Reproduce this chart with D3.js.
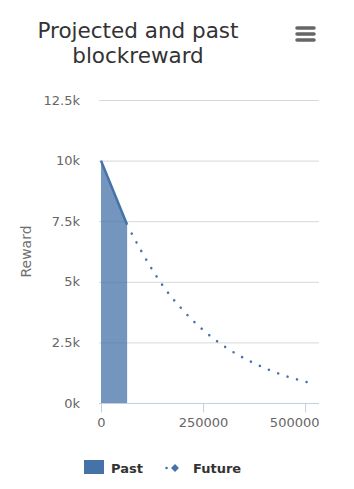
<!DOCTYPE html>
<html>
<head>
<meta charset="utf-8">
<script src="https://cdn.jsdelivr.net/npm/d3@7"></script>
<style>
  body { margin: 0; background: #fff; }
  text { font-family: "DejaVu Sans", sans-serif; }
</style>
</head>
<body>
<div id="main"></div>
<script>
// values
var titleLines = ["Projected and past", "blockreward"];
var yTicks = [0, 2500, 5000, 7500, 10000, 12500];
var xTicks = [0, 250000, 500000];
var pastBlocks = [0, 64000];
var pastReward = [10000, 7350];
var futureBlocks = [64000, 76900, 112400, 152200, 198300, 250700, 309000, 372100, 440000, 509700];
var futureReward = [7350, 6942, 5868, 4822, 3872, 3004, 2260, 1665, 1186, 839];
var seriesNames = ["Past", "Future"];

var ctx = {
    w: 354,
    h: 489,
    BLUE: "#4572A7",
    GRID: "#D8D8D8",
    AXIS: "#C0D0E0",
    LABEL: "#666666",
    left: 99,
    right: 319,
    top: 100,
    bottom: 403,
};

var createViz = function(){
    var svgEl = d3.select("#main").append("svg")
        .attr("width", ctx.w)
        .attr("height", ctx.h);

    ctx.xScale = d3.scaleLinear().domain([-4900, 534000]).range([ctx.left, ctx.right]);
    ctx.yScale = d3.scaleLinear().domain([0, 12500]).range([ctx.bottom, ctx.top]);

    // title
    svgEl.append("text")
        .attr("text-anchor", "middle")
        .attr("font-size", 21.5)
        .attr("fill", "#333")
        .selectAll("tspan").data(titleLines).enter().append("tspan")
        .attr("x", 138)
        .attr("y", (d, i) => 38 + i * 25)
        .text(d => d);

    // menu button
    svgEl.append("g").selectAll("line").data([28, 34, 40]).enter().append("line")
        .attr("x1", 297).attr("x2", 314)
        .attr("y1", d => d).attr("y2", d => d)
        .attr("stroke", "#666").attr("stroke-width", 3.5)
        .attr("stroke-linecap", "round");

    // grid + y labels
    var yAxis = d3.axisLeft(ctx.yScale)
        .tickValues(yTicks)
        .tickSize(-(ctx.right - ctx.left))
        .tickPadding(19)
        .tickFormat(d => (d / 1000) + "k");
    var gy = svgEl.append("g")
        .attr("transform", "translate(" + ctx.left + ",0)")
        .call(yAxis);
    gy.select(".domain").remove();
    gy.selectAll(".tick line").attr("stroke", ctx.GRID);
    gy.selectAll(".tick text")
        .attr("fill", ctx.LABEL)
        .attr("font-size", 13)
        .attr("font-family", "DejaVu Sans, sans-serif");

    svgEl.append("text")
        .attr("transform", "translate(31," + ((ctx.top + ctx.bottom) / 2) + ") rotate(-90)")
        .attr("text-anchor", "middle")
        .attr("font-size", 14)
        .attr("fill", "#707070")
        .text("Reward");

    // past area
    var past = pastBlocks.map((b, i) => ({x: b, y: pastReward[i]}));
    var area = d3.area()
        .x(d => ctx.xScale(d.x))
        .y0(ctx.yScale(0))
        .y1(d => ctx.yScale(d.y));
    svgEl.append("path").datum(past)
        .attr("d", area)
        .attr("fill", ctx.BLUE)
        .attr("fill-opacity", 0.75);
    var line = d3.line()
        .x(d => ctx.xScale(d.x))
        .y(d => ctx.yScale(d.y));
    svgEl.append("path").datum(past)
        .attr("d", line)
        .attr("fill", "none")
        .attr("stroke", ctx.BLUE)
        .attr("stroke-width", 2.5);

    // future dotted curve
    var future = futureBlocks.map((b, i) => ({x: b, y: futureReward[i]}));
    svgEl.append("path").datum(future)
        .attr("d", line.curve(d3.curveMonotoneX))
        .attr("fill", "none")
        .attr("stroke", ctx.BLUE)
        .attr("stroke-width", 2.5)
        .attr("stroke-linecap", "round")
        .attr("stroke-dasharray", "0.1 9.8")
        .attr("stroke-dashoffset", -9.8);

    // x axis
    var xAxis = d3.axisBottom(ctx.xScale)
        .tickValues(xTicks)
        .tickSize(9)
        .tickPadding(5)
        .tickFormat(d3.format("d"));
    var gx = svgEl.append("g")
        .attr("transform", "translate(0," + (ctx.bottom + 0.5) + ")")
        .call(xAxis);
    gx.select(".domain")
        .attr("d", "M" + ctx.left + ",0H" + ctx.right)
        .attr("stroke", ctx.AXIS);
    gx.selectAll(".tick line").attr("stroke", ctx.AXIS);
    gx.selectAll(".tick text")
        .attr("fill", ctx.LABEL)
        .attr("font-size", 13)
        .attr("font-family", "DejaVu Sans, sans-serif");
    // keep the last label inside the plot area
    gx.selectAll(".tick text").filter(d => d == xTicks[xTicks.length - 1])
        .attr("text-anchor", "end")
        .attr("x", ctx.right - ctx.xScale(xTicks[xTicks.length - 1]));

    // legend
    var lg = svgEl.append("g");
    lg.append("rect")
        .attr("x", 84).attr("y", 460).attr("width", 20).attr("height", 14)
        .attr("fill", ctx.BLUE);
    lg.append("line")
        .attr("x1", 166.5).attr("x2", 176).attr("y1", 468).attr("y2", 468)
        .attr("stroke", ctx.BLUE).attr("stroke-width", 2.5)
        .attr("stroke-linecap", "round")
        .attr("stroke-dasharray", "0.1 9");
    lg.append("path")
        .attr("d", d3.symbol(d3.symbolDiamond2, 40)())
        .attr("transform", "translate(175,468)")
        .attr("fill", ctx.BLUE);
    lg.selectAll("text.lbl").data(seriesNames).enter().append("text")
        .attr("class", "lbl")
        .attr("x", (d, i) => i == 0 ? 111 : 193)
        .attr("y", 473)
        .attr("font-size", 13)
        .attr("font-weight", "bold")
        .attr("fill", "#333")
        .text(d => d);
};

createViz();
</script>
</body>
</html>
